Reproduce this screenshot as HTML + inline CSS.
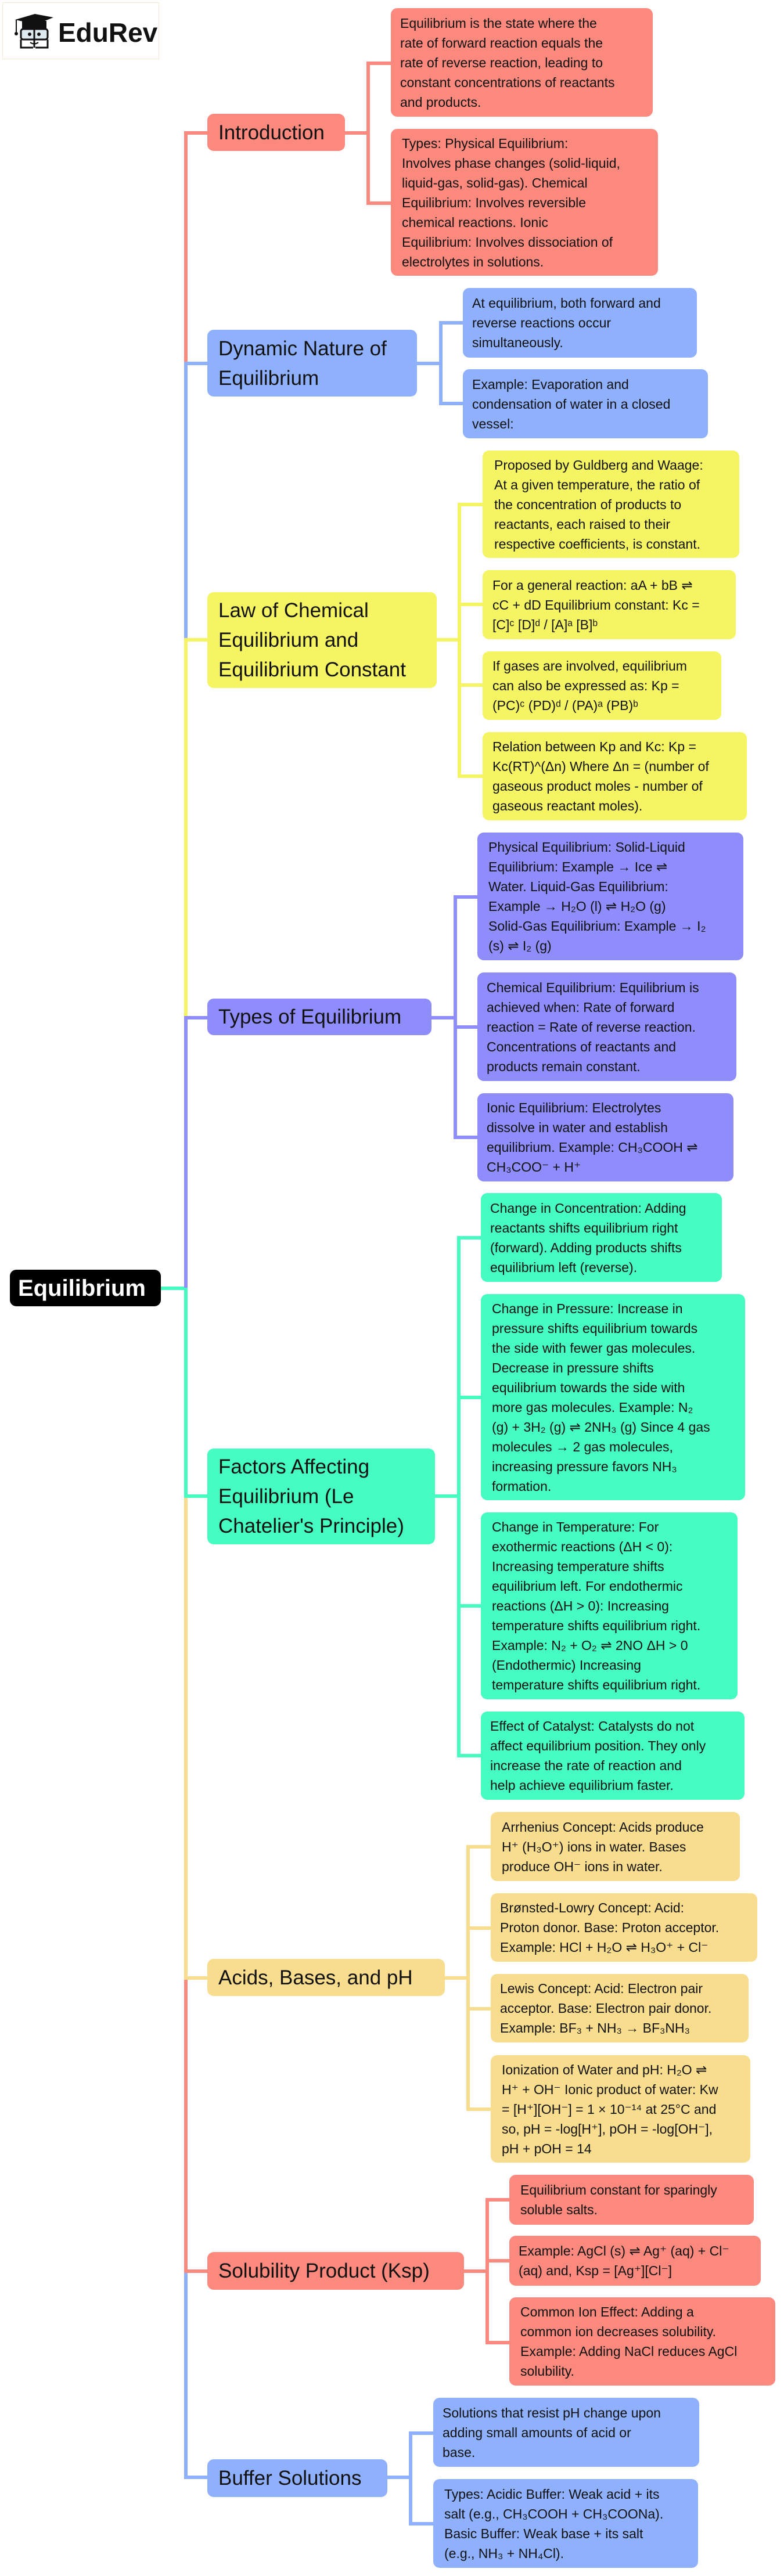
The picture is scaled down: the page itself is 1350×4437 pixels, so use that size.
<!DOCTYPE html>
<html><head><meta charset="utf-8">
<style>
*{margin:0;padding:0;box-sizing:border-box}
body{width:1350px;height:4437px;position:relative;background:#fff;font-family:"Liberation Sans",Arial,sans-serif;overflow:hidden}
.n{position:absolute;border-radius:11px;display:flex;flex-direction:column;justify-content:center;color:#111;white-space:nowrap}
.l{font-size:23px;line-height:34px;padding-left:16px}
.b{font-size:35px;line-height:51px;padding-left:19px}
.h{position:absolute;height:6px;margin-top:-0.5px}
.v{position:absolute;width:6px;margin-left:-0.5px}
.R{background:#fb897d}.B{background:#8fb1fd}.Y{background:#f5f563}.P{background:#8f8dfb}.G{background:#46fdc1}.A{background:#f9dd8e}
</style></head><body>

<!-- logo -->
<div style="position:absolute;left:4px;top:4px;width:270px;height:98px;border:1px solid #f3ead0;background:#fff"></div>
<svg style="position:absolute;left:24px;top:22px" width="70" height="64" viewBox="0 0 70 64">
<polygon points="2,12 36,2 68,8 38,20" fill="#111"/>
<path d="M14,14 L14,28 L56,28 L56,14 Z" fill="#111"/>
<line x1="4" y1="12" x2="4" y2="34" stroke="#111" stroke-width="2"/>
<circle cx="4" cy="36" r="3" fill="#111"/>
<rect x="12" y="28" width="46" height="18" rx="4" fill="#dfe9f0" stroke="#111" stroke-width="3"/>
<line x1="35" y1="28" x2="35" y2="60" stroke="#111" stroke-width="3"/>
<circle cx="27" cy="37" r="3" fill="#111"/><circle cx="43" cy="37" r="3" fill="#111"/>
<path d="M12,46 L12,60 L33,60 M37,60 L58,60 L58,46" fill="none" stroke="#111" stroke-width="3"/>
<path d="M28,51 Q35,56 42,51" fill="none" stroke="#111" stroke-width="2"/>
</svg>
<div style="position:absolute;left:100px;top:26px;font-size:46px;font-weight:bold;color:#111;line-height:60px">EduRev</div>

<!-- root -->
<div class="n" style="left:17px;top:2187px;width:260px;height:63px;background:#000;color:#fff;font-size:40px;font-weight:bold;line-height:50px;padding-left:14px">Equilibrium</div>
<div class="h G" style="left:277px;top:2216px;width:44px"></div>

<!-- trunk -->
<div class="v R" style="left:317px;top:226px;height:401px"></div>
<div class="v B" style="left:317px;top:625px;height:478px"></div>
<div class="v Y" style="left:317px;top:1101px;height:653px"></div>
<div class="v P" style="left:317px;top:1752px;height:468px"></div>
<div class="v G" style="left:317px;top:2218px;height:360px"></div>
<div class="v A" style="left:317px;top:2576px;height:832px"></div>
<div class="v R" style="left:317px;top:3406px;height:507px"></div>
<div class="v B" style="left:317px;top:3911px;height:359px"></div>

<!-- Intro -->
<div class="h R" style="left:317px;top:226px;width:42px"></div>
<div class="n b R" style="left:357px;top:196px;width:237px;height:64px">Introduction</div>
<div class="h R" style="left:594px;top:226px;width:42px"></div>
<div class="v R" style="left:631px;top:106px;height:247px"></div>
<div class="h R" style="left:631px;top:106px;width:44px"></div>
<div class="h R" style="left:631px;top:347px;width:44px"></div>
<div class="n l R" style="left:673px;top:14px;width:451px;height:187px">Equilibrium is the state where the<br>rate of forward reaction equals the<br>rate of reverse reaction, leading to<br>constant concentrations of reactants<br>and products.</div>
<div class="n l R" style="left:673px;top:222px;width:460px;height:253px;padding-left:19px">Types: Physical Equilibrium:<br>Involves phase changes (solid-liquid,<br>liquid-gas, solid-gas). Chemical<br>Equilibrium: Involves reversible<br>chemical reactions. Ionic<br>Equilibrium: Involves dissociation of<br>electrolytes in solutions.</div>

<!-- Dynamic -->
<div class="h B" style="left:317px;top:623px;width:42px"></div>
<div class="n b B" style="left:357px;top:568px;width:361px;height:115px">Dynamic Nature of<br>Equilibrium</div>
<div class="h B" style="left:718px;top:623px;width:42px"></div>
<div class="v B" style="left:756px;top:553px;height:145px"></div>
<div class="h B" style="left:756px;top:553px;width:43px"></div>
<div class="h B" style="left:756px;top:692px;width:43px"></div>
<div class="n l B" style="left:797px;top:496px;width:403px;height:120px">At equilibrium, both forward and<br>reverse reactions occur<br>simultaneously.</div>
<div class="n l B" style="left:797px;top:636px;width:422px;height:119px">Example: Evaporation and<br>condensation of water in a closed<br>vessel:</div>

<!-- Law -->
<div class="h Y" style="left:317px;top:1099px;width:42px"></div>
<div class="n b Y" style="left:357px;top:1020px;width:395px;height:165px">Law of Chemical<br>Equilibrium and<br>Equilibrium Constant</div>
<div class="h Y" style="left:752px;top:1099px;width:40px"></div>
<div class="v Y" style="left:788px;top:866px;height:474px"></div>
<div class="h Y" style="left:788px;top:866px;width:45px"></div>
<div class="h Y" style="left:788px;top:1038px;width:45px"></div>
<div class="h Y" style="left:788px;top:1177px;width:45px"></div>
<div class="h Y" style="left:788px;top:1334px;width:45px"></div>
<div class="n l Y" style="left:831px;top:776px;width:442px;height:185px;padding-left:20px">Proposed by Guldberg and Waage:<br>At a given temperature, the ratio of<br>the concentration of products to<br>reactants, each raised to their<br>respective coefficients, is constant.</div>
<div class="n l Y" style="left:831px;top:982px;width:436px;height:119px;padding-left:17px">For a general reaction: aA + bB ⇌<br>cC + dD Equilibrium constant: Kc =<br>[C]ᶜ [D]ᵈ / [A]ᵃ [B]ᵇ</div>
<div class="n l Y" style="left:831px;top:1122px;width:411px;height:118px;padding-left:17px">If gases are involved, equilibrium<br>can also be expressed as: Kp =<br>(PC)ᶜ (PD)ᵈ / (PA)ᵃ (PB)ᵇ</div>
<div class="n l Y" style="left:831px;top:1261px;width:455px;height:152px;padding-left:17px">Relation between Kp and Kc: Kp =<br>Kc(RT)^(Δn) Where Δn = (number of<br>gaseous product moles - number of<br>gaseous reactant moles).</div>

<!-- Types -->
<div class="h P" style="left:317px;top:1750px;width:42px"></div>
<div class="n b P" style="left:357px;top:1720px;width:386px;height:63px">Types of Equilibrium</div>
<div class="h P" style="left:743px;top:1750px;width:42px"></div>
<div class="v P" style="left:781px;top:1542px;height:420px"></div>
<div class="h P" style="left:781px;top:1542px;width:43px"></div>
<div class="h P" style="left:781px;top:1766px;width:43px"></div>
<div class="h P" style="left:781px;top:1956px;width:43px"></div>
<div class="n l P" style="left:822px;top:1434px;width:458px;height:220px;padding-left:19px">Physical Equilibrium: Solid-Liquid<br>Equilibrium: Example → Ice ⇌<br>Water. Liquid-Gas Equilibrium:<br>Example → H₂O (l) ⇌ H₂O (g)<br>Solid-Gas Equilibrium: Example → I₂<br>(s) ⇌ I₂ (g)</div>
<div class="n l P" style="left:822px;top:1675px;width:446px;height:187px">Chemical Equilibrium: Equilibrium is<br>achieved when: Rate of forward<br>reaction = Rate of reverse reaction.<br>Concentrations of reactants and<br>products remain constant.</div>
<div class="n l P" style="left:822px;top:1883px;width:441px;height:152px">Ionic Equilibrium: Electrolytes<br>dissolve in water and establish<br>equilibrium. Example: CH₃COOH ⇌<br>CH₃COO⁻ + H⁺</div>

<!-- Factors -->
<div class="h G" style="left:317px;top:2574px;width:42px"></div>
<div class="n b G" style="left:357px;top:2495px;width:392px;height:165px">Factors Affecting<br>Equilibrium (Le<br>Chatelier's Principle)</div>
<div class="h G" style="left:749px;top:2574px;width:42px"></div>
<div class="v G" style="left:787px;top:2129px;height:898px"></div>
<div class="h G" style="left:787px;top:2129px;width:43px"></div>
<div class="h G" style="left:787px;top:2404px;width:43px"></div>
<div class="h G" style="left:787px;top:2763px;width:43px"></div>
<div class="h G" style="left:787px;top:3021px;width:43px"></div>
<div class="n l G" style="left:828px;top:2055px;width:415px;height:153px">Change in Concentration: Adding<br>reactants shifts equilibrium right<br>(forward). Adding products shifts<br>equilibrium left (reverse).</div>
<div class="n l G" style="left:828px;top:2229px;width:455px;height:355px;padding-left:19px">Change in Pressure: Increase in<br>pressure shifts equilibrium towards<br>the side with fewer gas molecules.<br>Decrease in pressure shifts<br>equilibrium towards the side with<br>more gas molecules. Example: N₂<br>(g) + 3H₂ (g) ⇌ 2NH₃ (g) Since 4 gas<br>molecules → 2 gas molecules,<br>increasing pressure favors NH₃<br>formation.</div>
<div class="n l G" style="left:828px;top:2605px;width:442px;height:322px;padding-left:19px">Change in Temperature: For<br>exothermic reactions (ΔH &lt; 0):<br>Increasing temperature shifts<br>equilibrium left. For endothermic<br>reactions (ΔH &gt; 0): Increasing<br>temperature shifts equilibrium right.<br>Example: N₂ + O₂ ⇌ 2NO ΔH &gt; 0<br>(Endothermic) Increasing<br>temperature shifts equilibrium right.</div>
<div class="n l G" style="left:828px;top:2948px;width:454px;height:152px">Effect of Catalyst: Catalysts do not<br>affect equilibrium position. They only<br>increase the rate of reaction and<br>help achieve equilibrium faster.</div>

<!-- Acids -->
<div class="h A" style="left:317px;top:3404px;width:42px"></div>
<div class="n b A" style="left:357px;top:3374px;width:409px;height:64px">Acids, Bases, and pH</div>
<div class="h A" style="left:766px;top:3404px;width:41px"></div>
<div class="v A" style="left:803px;top:3178px;height:458px"></div>
<div class="h A" style="left:803px;top:3178px;width:44px"></div>
<div class="h A" style="left:803px;top:3318px;width:44px"></div>
<div class="h A" style="left:803px;top:3457px;width:44px"></div>
<div class="h A" style="left:803px;top:3630px;width:44px"></div>
<div class="n l A" style="left:845px;top:3121px;width:429px;height:119px;padding-left:19px">Arrhenius Concept: Acids produce<br>H⁺ (H₃O⁺) ions in water. Bases<br>produce OH⁻ ions in water.</div>
<div class="n l A" style="left:845px;top:3261px;width:459px;height:118px">Brønsted-Lowry Concept: Acid:<br>Proton donor. Base: Proton acceptor.<br>Example: HCl + H₂O ⇌ H₃O⁺ + Cl⁻</div>
<div class="n l A" style="left:845px;top:3400px;width:444px;height:118px">Lewis Concept: Acid: Electron pair<br>acceptor. Base: Electron pair donor.<br>Example: BF₃ + NH₃ → BF₃NH₃</div>
<div class="n l A" style="left:845px;top:3540px;width:447px;height:185px;padding-left:19px">Ionization of Water and pH: H₂O ⇌<br>H⁺ + OH⁻ Ionic product of water: Kw<br>= [H⁺][OH⁻] = 1 × 10⁻¹⁴ at 25°C and<br>so, pH = -log[H⁺], pOH = -log[OH⁻],<br>pH + pOH = 14</div>

<!-- Ksp -->
<div class="h R" style="left:317px;top:3909px;width:42px"></div>
<div class="n b R" style="left:357px;top:3879px;width:442px;height:65px">Solubility Product (Ksp)</div>
<div class="h R" style="left:799px;top:3909px;width:41px"></div>
<div class="v R" style="left:836px;top:3786px;height:252px"></div>
<div class="h R" style="left:836px;top:3786px;width:43px"></div>
<div class="h R" style="left:836px;top:3891px;width:43px"></div>
<div class="h R" style="left:836px;top:4032px;width:43px"></div>
<div class="n l R" style="left:877px;top:3746px;width:421px;height:86px;padding-left:19px">Equilibrium constant for sparingly<br>soluble salts.</div>
<div class="n l R" style="left:877px;top:3851px;width:433px;height:86px">Example: AgCl (s) ⇌ Ag⁺ (aq) + Cl⁻<br>(aq) and, Ksp = [Ag⁺][Cl⁻]</div>
<div class="n l R" style="left:877px;top:3957px;width:458px;height:152px;padding-left:19px">Common Ion Effect: Adding a<br>common ion decreases solubility.<br>Example: Adding NaCl reduces AgCl<br>solubility.</div>

<!-- Buffer -->
<div class="h B" style="left:317px;top:4264px;width:42px"></div>
<div class="n b B" style="left:357px;top:4236px;width:310px;height:65px">Buffer Solutions</div>
<div class="h B" style="left:667px;top:4264px;width:41px"></div>
<div class="v B" style="left:704px;top:4188px;height:162px"></div>
<div class="h B" style="left:704px;top:4188px;width:44px"></div>
<div class="h B" style="left:704px;top:4344px;width:44px"></div>
<div class="n l B" style="left:746px;top:4130px;width:458px;height:119px">Solutions that resist pH change upon<br>adding small amounts of acid or<br>base.</div>
<div class="n l B" style="left:746px;top:4270px;width:456px;height:153px;padding-left:19px">Types: Acidic Buffer: Weak acid + its<br>salt (e.g., CH₃COOH + CH₃COONa).<br>Basic Buffer: Weak base + its salt<br>(e.g., NH₃ + NH₄Cl).</div>

</body></html>
